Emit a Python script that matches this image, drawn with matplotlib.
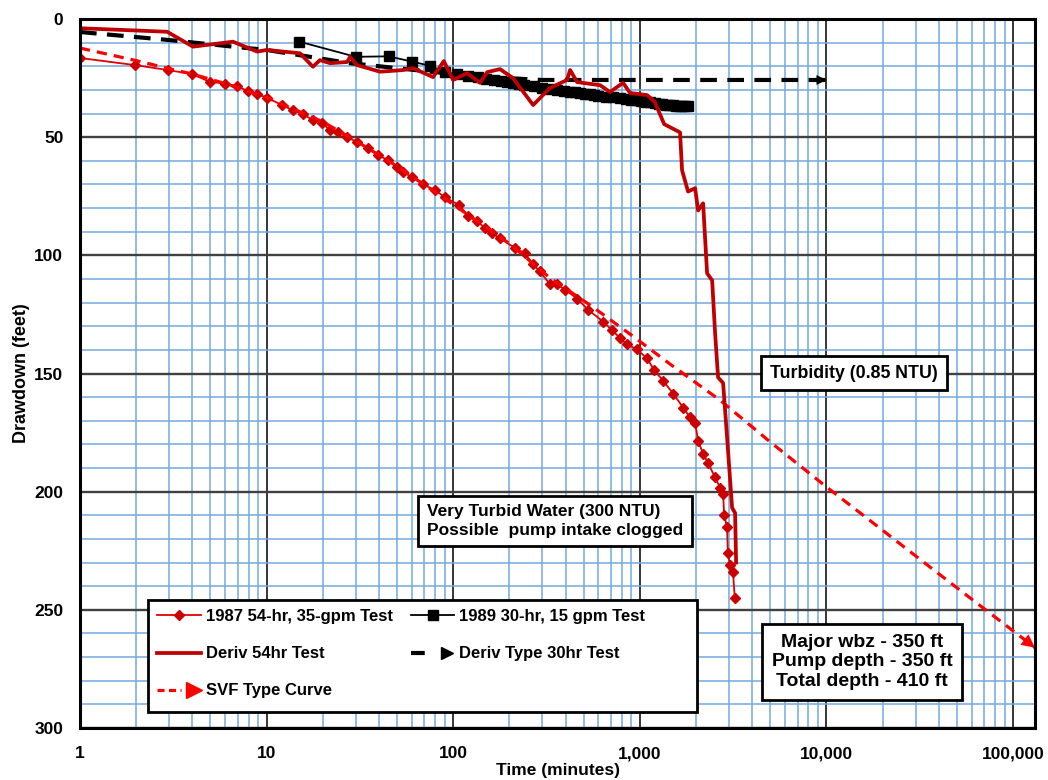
import numpy as np
import matplotlib
matplotlib.use("Agg")
from matplotlib import pyplot as plt
from matplotlib.lines import Line2D
from matplotlib.patches import Rectangle
from matplotlib.legend_handler import HandlerBase
from matplotlib.ticker import FixedLocator, LogLocator, NullFormatter

plt.rcParams['font.family'] = ['Liberation Sans', 'DejaVu Sans']
plt.rcParams['font.weight'] = 'bold'
plt.rcParams['axes.labelweight'] = 'bold'

# 1987 54-hr, 35-gpm test (time in minutes, drawdown in feet)
t_1987 = [1, 1.97, 2.96, 3.98, 4.97, 5.98, 6.9, 7.9, 8.9, 10, 12.1, 13.8, 15.7, 17.7,
          19.8, 21.8, 24, 27, 30.5, 34.8, 39.5, 44.7, 50, 54, 60, 69, 80, 90, 108,
          120, 134, 148, 161, 178, 215, 242, 268, 291, 330, 360, 397, 461, 527, 635,
          705, 783, 851, 960, 1093, 1195, 1331, 1507, 1705, 1858, 1977, 2051, 2182,
          2325, 2530, 2690, 2792, 2830, 2933, 2960, 3043, 3154, 3225]
dd_1987 = [16.5, 19.5, 21.6, 23.3, 26.6, 27.3, 28.4, 30.4, 31.8, 33.3, 36.4, 38.6, 40.3,
           42.8, 44, 47, 47.9, 50, 52, 54.7, 57.6, 59.7, 62.6, 64.8, 66.9, 70, 72.4,
           75.4, 78.8, 83.4, 85.5, 88.5, 90.6, 92.8, 97, 99.1, 103.8, 106.8, 112.3,
           112.3, 114.5, 118.3, 123, 128, 131.5, 135, 137.6, 139.7, 143.6, 148.7, 153,
           158.5, 164.4, 168.6, 170.8, 178.4, 184, 188, 194, 198.3, 200.8, 210, 215,
           226, 231, 234, 245]

# 1989 30-hr, 15 gpm test
t_1989 = [15, 30, 45, 60, 75, 90, 105, 120, 135, 150, 165, 180, 195, 210, 225, 240, 270,
          300, 330, 360, 390, 420, 450, 480, 510, 540, 570, 600, 660, 720, 780, 840,
          900, 960, 1020, 1080, 1140, 1200, 1260, 1320, 1380, 1440, 1500, 1560, 1620,
          1680, 1740, 1800]
dd_1989 = [9.6, 16, 15.8, 18, 19.8, 22.5, 23.3, 24, 24.6, 25.2, 25.8, 26.4, 26.8, 27.2,
           27.5, 27.8, 28.4, 29, 29.6, 30, 30.4, 30.8, 31.1, 31.4, 31.6, 31.9, 32.1,
           32.4, 32.8, 33.2, 33.5, 33.8, 34.1, 34.4, 34.7, 35, 35.3, 35.6, 35.9, 36.1,
           36.3, 36.5, 36.6, 36.7, 36.8, 36.9, 37, 37]

# Derivative of the 54 hr test
t_deriv = [1, 2.93, 4.03, 6.6, 8.9, 10, 15.1, 17.7, 19.3, 21.9, 27, 28, 30.5, 40.5, 53.8,
           60.9, 78, 89, 99.8, 118.6, 139, 152, 178, 209, 268, 330, 407, 423, 461, 612,
           692, 813, 886, 1093, 1200, 1350, 1452, 1642, 1683, 1812, 1977, 2051, 2182,
           2292, 2440, 2530, 2625, 2792, 2933, 3120, 3237, 3279]
dd_deriv = [3.9, 5.4, 11.7, 9.6, 13.8, 13.1, 14.5, 20.2, 17.4, 18.7, 18.2, 16, 19.5, 22.3,
            21.6, 20.8, 24.6, 17.8, 25.8, 22.9, 27, 22.5, 21.2, 25, 36.4, 29.2, 25.8,
            21.6, 26.7, 28, 30.9, 27, 31.3, 32.2, 35, 44.5, 45.8, 48, 64, 73, 71.6, 81,
            78, 107.6, 110.6, 133, 151.7, 154, 177, 206.8, 209, 230]

# Derivative type curve, 30 hr test
t_dtype = [1, 3, 6.6, 10, 15, 28, 78, 150, 300, 10000]
dd_dtype = [5.5, 8.9, 11.7, 13.1, 15.3, 18.7, 22.4, 24.5, 25.8, 25.8]

# SVF type curve
t_svf = [1, 2, 3, 4, 6, 10, 20, 30, 50, 100, 200, 330, 540, 910, 1450, 2700, 5000,
         10000, 19000, 36000, 66000, 131000]
dd_svf = [12.3, 17.6, 21, 23.3, 27.3, 33.2, 43.5, 51.5, 62.3, 78.5, 95, 109.6, 121, 134,
          146, 161.4, 179, 198, 215, 232, 248, 266]

x_major = [1, 10, 100, 1000, 10000, 100000]
y_major = [0, 50, 100, 150, 200, 250, 300]

GRID_BLUE = '#74a9de'


class ArrowHandle(HandlerBase):
    """Legend entry: dashed line followed by an arrow head."""

    def __init__(self, color, lw, dashes, line_end, head_ms):
        super().__init__()
        self.color = color
        self.lw = lw
        self.dashes = dashes
        self.line_end = line_end
        self.head_ms = head_ms

    def create_artists(self, legend, orig_handle, xdescent, ydescent, width, height,
                       fontsize, trans):
        y = height / 2 - ydescent
        x0 = -xdescent
        line = Line2D([x0, x0 + self.line_end * width], [y, y], color=self.color,
                      lw=self.lw, dashes=self.dashes, solid_capstyle='butt',
                      dash_capstyle='butt')
        head = Line2D([x0 + 0.84 * width], [y], marker='>', color=self.color,
                      markersize=self.head_ms, lw=0)
        line.set_transform(trans)
        head.set_transform(trans)
        return [line, head]


def add_head(ax, xs, ys, color, size):
    ax.annotate('', xy=(xs[-1], ys[-1]), xytext=(xs[-2], ys[-2]),
                arrowprops=dict(arrowstyle='-|>', fc=color, ec='none', lw=0,
                                mutation_scale=size, shrinkA=0, shrinkB=0),
                annotation_clip=False, zorder=6)


def main():
    fig = plt.figure(figsize=(10.48, 7.8), dpi=100)
    ax = fig.add_axes([80 / 1048, 1 - 728 / 780, 955 / 1048, 709 / 780])
    ax.set_xscale('log')
    ax.set_xlim(1, 1.31e5)
    ax.set_ylim(300, 0)

    ax.xaxis.set_major_locator(FixedLocator(x_major))
    ax.set_xticklabels([f"{v:,}" for v in x_major])
    ax.xaxis.set_minor_locator(LogLocator(base=10, subs=range(2, 10), numticks=20))
    ax.xaxis.set_minor_formatter(NullFormatter())
    ax.set_yticks(y_major)
    ax.set_yticks(range(0, 301, 10), minor=True)
    ax.tick_params(which='both', length=0, labelsize=12.5)
    ax.tick_params(axis='x', pad=13)
    ax.tick_params(axis='y', pad=12)

    ax.grid(which='minor', color=GRID_BLUE, lw=1.1)
    ax.grid(which='major', axis='x', color='black', lw=1.1)
    ax.grid(which='major', axis='y', color='#404040', lw=1.7)
    ax.set_axisbelow(True)
    for sp in ax.spines.values():
        sp.set_linewidth(2.2)
        sp.set_zorder(10)

    h87, = ax.plot(t_1987, dd_1987, color='#e00000', lw=1.3, marker='D', ms=5.5,
                   mfc='#cc0000', mec='#cc0000', zorder=3,
                   label='1987 54-hr, 35-gpm Test')
    hsvf, = ax.plot(t_svf, dd_svf, color='#ff0000', lw=2.3, dashes=(3.2, 2.2),
                    zorder=4, label='SVF Type Curve')
    add_head(ax, t_svf, dd_svf, '#ff0000', 24)
    h89, = ax.plot(t_1989, dd_1989, color='black', lw=1.3, marker='s', ms=7.5,
                   zorder=3, label='1989 30-hr, 15 gpm Test')
    hdt, = ax.plot(t_dtype, dd_dtype, color='black', lw=3, dashes=(4, 2.5),
                   zorder=4, label='Deriv Type 30hr Test')
    add_head(ax, t_dtype, dd_dtype, 'black', 18)
    hd54, = ax.plot(t_deriv, dd_deriv, color='#c00000', lw=2.7, zorder=5,
                    label='Deriv 54hr Test')

    # legend frame drawn separately so it can be as wide as the original box
    ax.add_patch(Rectangle(((148 - 80) / 955, (728 - 712) / 709), 549 / 955, 112 / 709,
                           transform=ax.transAxes, fc='white', ec='black', lw=2,
                           zorder=19))
    handles = [h87, hd54, hsvf, h89, hdt]
    leg = ax.legend(handles=handles, ncol=2, loc='upper left',
                    bbox_to_anchor=((148 - 80) / 955, (728 - 600) / 709),
                    prop={'size': 12, 'weight': 'bold'}, frameon=False,
                    handlelength=2.6, handletextpad=0.3, columnspacing=1.1,
                    labelspacing=1.33, borderpad=0.55, borderaxespad=0,
                    handler_map={hsvf: ArrowHandle('#ff0000', 2.3, (2.2, 1.4), 0.55, 12),
                                 hdt: ArrowHandle('black', 3, (3.3, 10), 0.5, 9)})
    leg.set_zorder(20)

    box = dict(boxstyle='square,pad=0.5', fc='white', ec='black', lw=2)
    ax.text((427 - 80) / 955, (728 - 521) / 709,
            'Very Turbid Water (300 NTU)\nPossible  pump intake clogged',
            transform=ax.transAxes, ha='left', va='center', fontsize=12.5,
            linespacing=1.3, bbox=box, zorder=20)
    ax.text((854 - 80) / 955, (728 - 373) / 709, 'Turbidity (0.85 NTU)',
            transform=ax.transAxes, ha='center', va='center', fontsize=12.8,
            bbox=box, zorder=20)
    ax.text((862 - 80) / 955, (728 - 662) / 709,
            'Major wbz - 350 ft\nPump depth - 350 ft\nTotal depth - 410 ft',
            transform=ax.transAxes, ha='center', va='center', fontsize=14,
            linespacing=1.2, multialignment='center', bbox=box, zorder=20)

    ax.set_xlabel('Time (minutes)', fontsize=12.5)
    ax.xaxis.set_label_coords(0.5, (728 - 771) / 709)
    ax.xaxis.label.set_va('center')
    ax.set_ylabel('Drawdown (feet)', fontsize=13)
    ax.yaxis.set_label_coords((22 - 80) / 955, 0.5)
    ax.yaxis.label.set_va('center')

    fig.savefig('out.png', dpi=100)


if __name__ == "__main__":
    main()
